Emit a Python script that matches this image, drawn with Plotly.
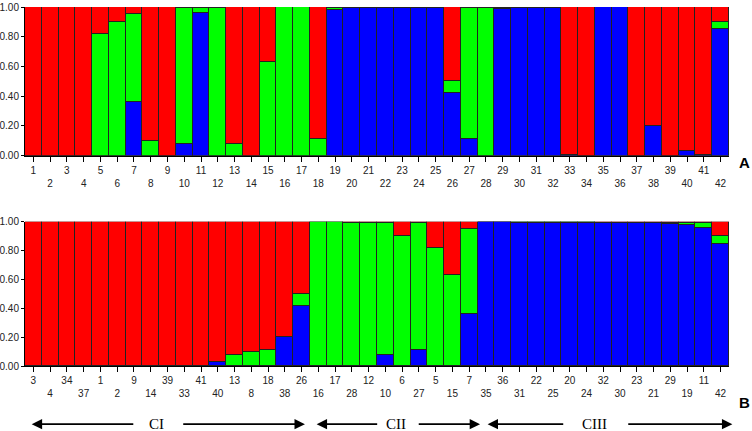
import plotly.graph_objects as go

# membership coefficients per individual 1..42 (K=3)
ids = list(range(1, 43))
red = [1.00, 1.00, 1.00, 1.00, 0.18, 0.10, 0.05, 0.90, 1.00, 0.01,
       0.01, 0.01, 0.92, 1.00, 0.37, 0.00, 0.00, 0.89, 0.005, 0.00,
       0.01, 0.003, 0.005, 0.003, 0.003, 0.50, 0.01, 0.005, 0.01, 0.005,
       0.003, 0.005, 0.995, 1.00, 0.00, 0.00, 1.00, 0.80, 1.00, 0.97,
       0.995, 0.10]
green = [0, 0, 0, 0, 0.82, 0.90, 0.59, 0.10, 0, 0.91,
         0.03, 0.99, 0.08, 0, 0.63, 1.00, 1.00, 0.11, 0.015, 0.005,
         0.00, 0.002, 0.005, 0.002, 0.002, 0.08, 0.88, 0.995, 0.005, 0.005,
         0.002, 0.005, 0, 0, 0, 0, 0, 0, 0, 0,
         0, 0.05]
blue = [0, 0, 0, 0, 0, 0, 0.36, 0, 0, 0.08,
        0.96, 0, 0, 0, 0, 0, 0, 0, 0.98, 0.995,
        0.99, 0.995, 0.99, 0.995, 0.995, 0.42, 0.11, 0, 0.985, 0.99,
        0.995, 0.99, 0.005, 0, 1.00, 1.00, 0, 0.20, 0, 0.03,
        0.005, 0.85]

# sorted order for panel B
order_b = [3, 4, 34, 37, 1, 2, 9, 14, 39, 33, 41, 40, 13, 8, 18, 38, 26,
           16, 17, 28, 12, 10, 6, 27, 5, 15, 7,
           35, 36, 31, 22, 25, 20, 24, 32, 30, 23, 21, 29, 19, 11, 42]
# cluster name, left arrow tip, gap around label (left, right), right arrow tip (bar units)
groups = [("CI", -0.1, 6.05, 8.85, 16.2),
          ("CII", 16.9, 20.6, 22.9, 26.65),
          ("CIII", 27.1, 31.7, 35.4, 41.7)]

colors = {"blue": "#0000FF", "green": "#00FF00", "red": "#FF0000"}
tickfont = dict(family="Liberation Sans Narrow, Arial Narrow, Liberation Sans", size=10, color="#222")

W, H = 752, 431
ml, mr, mt, mb = 25, 23, 7, 65
nbar = len(ids)
barpx = (W - ml - mr) / float(nbar)

def px(b):
    # bar units -> paper x
    return (b + 0.5) / nbar

fig = go.Figure()

def add_panel(labels, xa, ya):
    idx = [ids.index(k) for k in labels]
    xs = list(range(len(labels)))
    for name, vals in [("blue", blue), ("green", green), ("red", red)]:
        fig.add_trace(go.Bar(x=xs, y=[vals[i] for i in idx], marker_color=colors[name],
                             marker_line=dict(color="#222", width=1),
                             xaxis=xa, yaxis=ya, showlegend=False, name=name))

add_panel(ids, "x", "y")
add_panel(order_b, "x2", "y2")

def xticks(labels):
    return [str(k) if i % 2 == 0 else "<br>" + str(k) for i, k in enumerate(labels)]

xax = dict(range=[-0.5, nbar - 0.5], showgrid=False, zeroline=False, showline=True, linecolor="#000",
           linewidth=1, ticks="outside", ticklen=5, tickcolor="#000", tickfont=tickfont,
           tickvals=list(range(nbar)), tickangle=0, automargin=False)
yax = dict(range=[0, 1.0], showgrid=False, zeroline=False, showline=True, linecolor="#000",
           linewidth=1, ticks="outside", ticklen=3, tickcolor="#000", tickfont=tickfont,
           tickvals=[0, 0.2, 0.4, 0.6, 0.8, 1.0], tickformat=".2f", automargin=False)

fig.update_layout(
    width=W, height=H, barmode="stack", bargap=0,
    plot_bgcolor="white", paper_bgcolor="white",
    margin=dict(l=ml, r=mr, t=mt, b=mb),
    xaxis=dict(xax, anchor="y", ticktext=xticks(ids)),
    yaxis=dict(yax, anchor="x", domain=[0.586, 1.0]),
    xaxis2=dict(xax, anchor="y2", ticktext=xticks(order_b)),
    yaxis2=dict(yax, anchor="x2", domain=[0, 0.402]),
)

fig.add_annotation(text="<b>A</b>", xref="paper", yref="paper", x=1.032, y=0.568, showarrow=False,
                   font=dict(family="Liberation Sans", size=15, color="#000"),
                   xanchor="right", yanchor="middle")
fig.add_annotation(text="<b>B</b>", xref="paper", yref="paper", x=1.032, y=-0.103, showarrow=False,
                   font=dict(family="Liberation Sans", size=15, color="#000"),
                   xanchor="right", yanchor="middle")

# cluster arrows below panel B (paper coords so nothing gets hidden off-axis)
ya = -0.162
for name, tip_l, gap_l, gap_r, tip_r in groups:
    fig.add_annotation(text=name, xref="paper", yref="paper", x=px((gap_l + gap_r) / 2.0 - 0.1), y=ya,
                       showarrow=False, yanchor="middle", xanchor="center",
                       font=dict(family="Liberation Serif, Times New Roman", size=15, color="#000"))
    fig.add_annotation(text="", xref="paper", yref="paper", x=px(tip_l), y=ya,
                       ax=(gap_l - tip_l) * barpx, ay=0, showarrow=True,
                       arrowhead=2, arrowsize=1.3, arrowwidth=1.6, arrowcolor="#000")
    fig.add_annotation(text="", xref="paper", yref="paper", x=px(tip_r), y=ya,
                       ax=(gap_r - tip_r) * barpx, ay=0, showarrow=True,
                       arrowhead=2, arrowsize=1.3, arrowwidth=1.6, arrowcolor="#000")

# page body has an 8px default margin; drop it so the figure sits at the window corner
fig.write_html("out.html", config={"displayModeBar": False},
               post_script="document.body.style.margin='0';")
